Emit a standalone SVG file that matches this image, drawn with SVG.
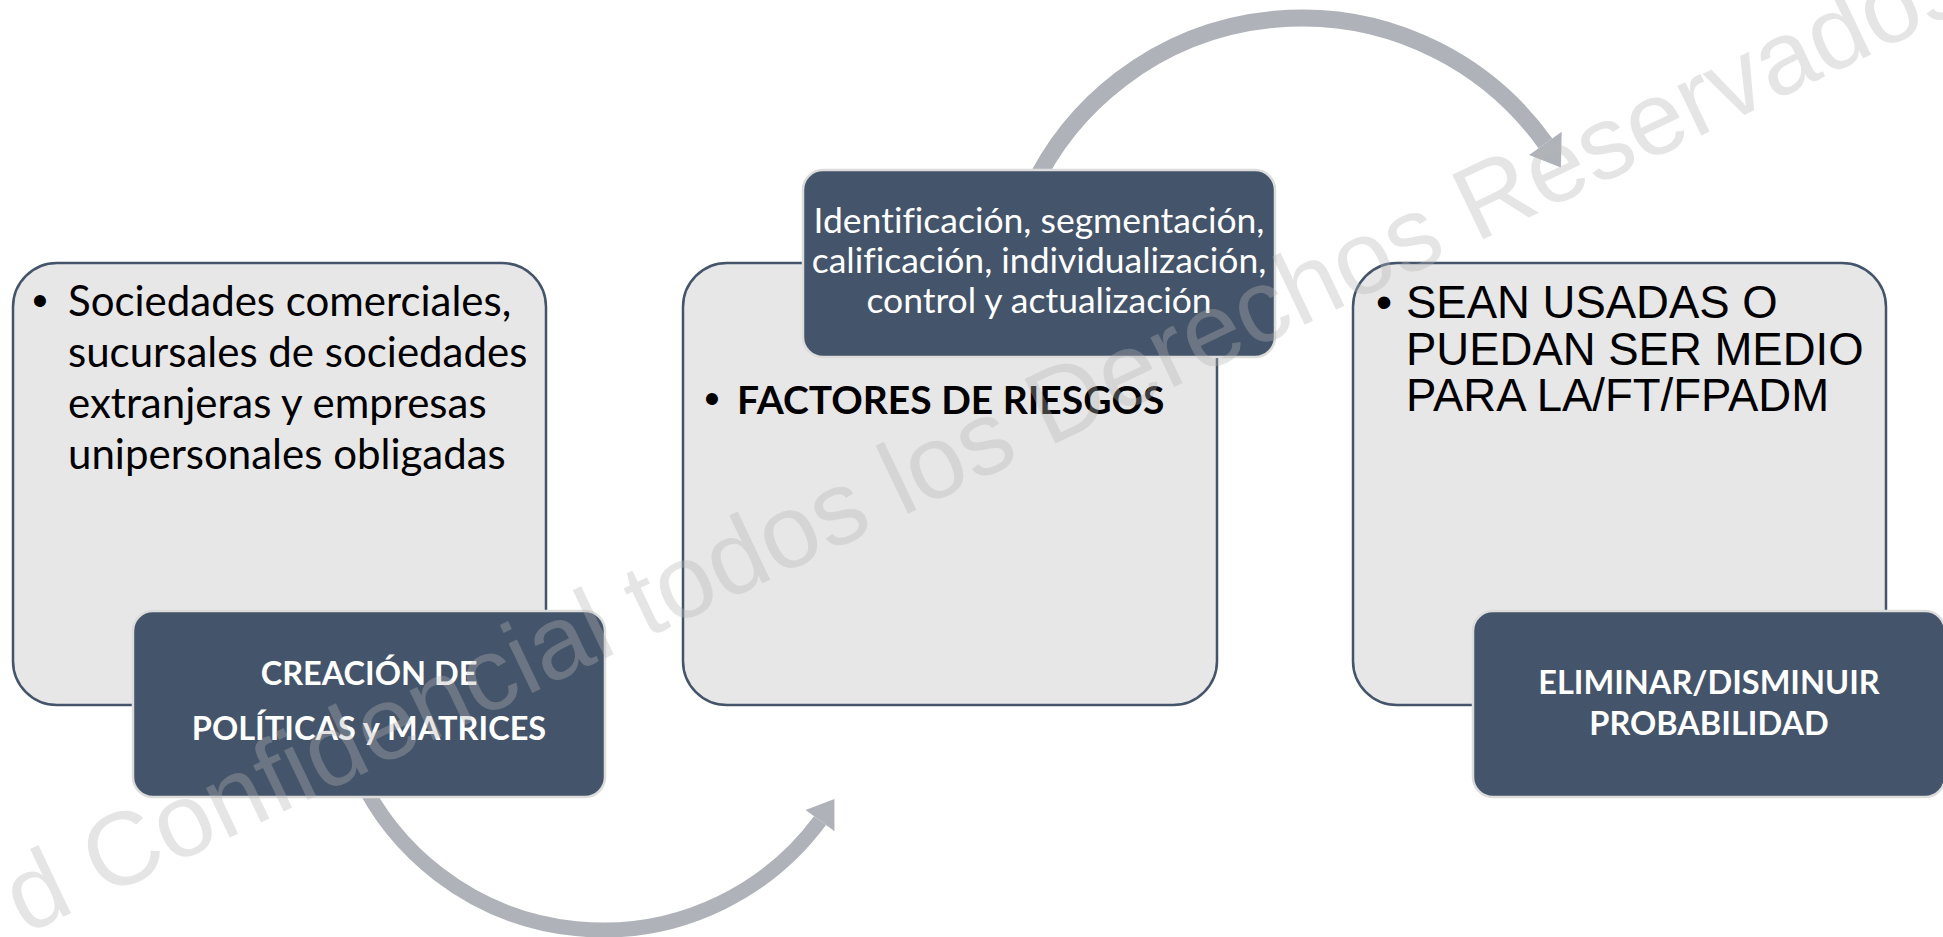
<svg xmlns="http://www.w3.org/2000/svg" width="1943" height="937" viewBox="0 0 1943 937">
<style>
.lt{fill:#e7e7e7;stroke:#44546a;stroke-width:2.5}
.dk{fill:#44546a;stroke:#dcdcdc;stroke-width:2.5}
.arc{fill:none;stroke:#afb3b9}
.head{fill:#afb3b9}
.cal{font-family:Lato,'Open Sans',sans-serif;font-variant-ligatures:none;font-feature-settings:"liga" 0,"clig" 0}
.big{font-size:42px;fill:#000}
.sm{font-size:35.5px;fill:#fff;text-anchor:middle}
.smb{font-size:32.5px;fill:#fff;text-anchor:middle;font-weight:bold}
.b{font-weight:bold}
.ari{font-family:'Liberation Sans',Arial,sans-serif}
.bul{font-family:'Liberation Sans',Arial,sans-serif;text-anchor:middle;fill:#000}
.wm{font-family:'Liberation Sans',Arial,sans-serif;font-size:104px;fill:#b4b4b4;fill-opacity:0.35}
</style>
<rect width="1943" height="937" fill="#fff"/>
<g id="box-sociedades">
<rect class="lt" x="13" y="263" width="533" height="442" rx="44"/>
<text class="bul" x="40" y="316" font-size="44">•</text>
<text class="cal big"><tspan x="68" y="316">Sociedades comerciales,</tspan><tspan x="68" y="367">sucursales de sociedades</tspan><tspan x="68" y="418">extranjeras y empresas</tspan><tspan x="68" y="469">unipersonales obligadas</tspan></text>
</g>
<g id="box-factores">
<rect class="lt" x="683" y="263" width="534" height="442" rx="44"/>
<text class="bul" x="712" y="414" font-size="44">•</text>
<text class="cal b" font-size="39" fill="#000" x="737" y="414">FACTORES DE RIESGOS</text>
</g>
<g id="box-sean">
<rect class="lt" x="1353" y="263" width="533" height="442" rx="44"/>
<text class="bul" x="1384" y="318" font-size="46">•</text>
<text class="ari" font-size="45.5" fill="#000"><tspan x="1406" y="318">SEAN USADAS O</tspan><tspan x="1406" y="364.5">PUEDAN SER MEDIO</tspan><tspan x="1406" y="411">PARA LA/FT/FPADM</tspan></text>
</g>
<g id="connectors">
<path class="arc" stroke-width="17" d="M 1031.0 190.6 A 299 299 0 0 1 1545.4 143.4"/>
<polygon class="head" points="1560.9,167.5 1529.1,155.0 1561.7,131.8"/>
<path class="arc" stroke-width="15" d="M 358.3 774.1 A 270 270 0 0 0 820.0 820.6"/>
<polygon class="head" points="834.4,799.1 805.6,809.9 834.5,831.3"/>
</g>
<g id="box-creacion">
<rect class="dk" x="133" y="611" width="472" height="186" rx="20"/>
<text class="cal smb"><tspan x="369" y="685">CREACIÓN DE</tspan><tspan x="369" y="740">POLÍTICAS y MATRICES</tspan></text>
</g>
<g id="box-identificacion">
<rect class="dk" x="803" y="170" width="472" height="187" rx="20"/>
<text class="cal sm"><tspan x="1039" y="233">Identificación, segmentación,</tspan><tspan x="1039" y="273">calificación, individualización,</tspan><tspan x="1039" y="313">control y actualización</tspan></text>
</g>
<g id="box-eliminar">
<rect class="dk" x="1473" y="611" width="472" height="186" rx="20"/>
<text class="cal smb"><tspan x="1709" y="694">ELIMINAR/DISMINUIR</tspan><tspan x="1709" y="735">PROBABILIDAD</tspan></text>
</g>
<g id="watermark">
<text class="wm" transform="translate(25,935) rotate(-25.5)">d Confidencial todos los Derechos Reservados</text>
</g>
</svg>
